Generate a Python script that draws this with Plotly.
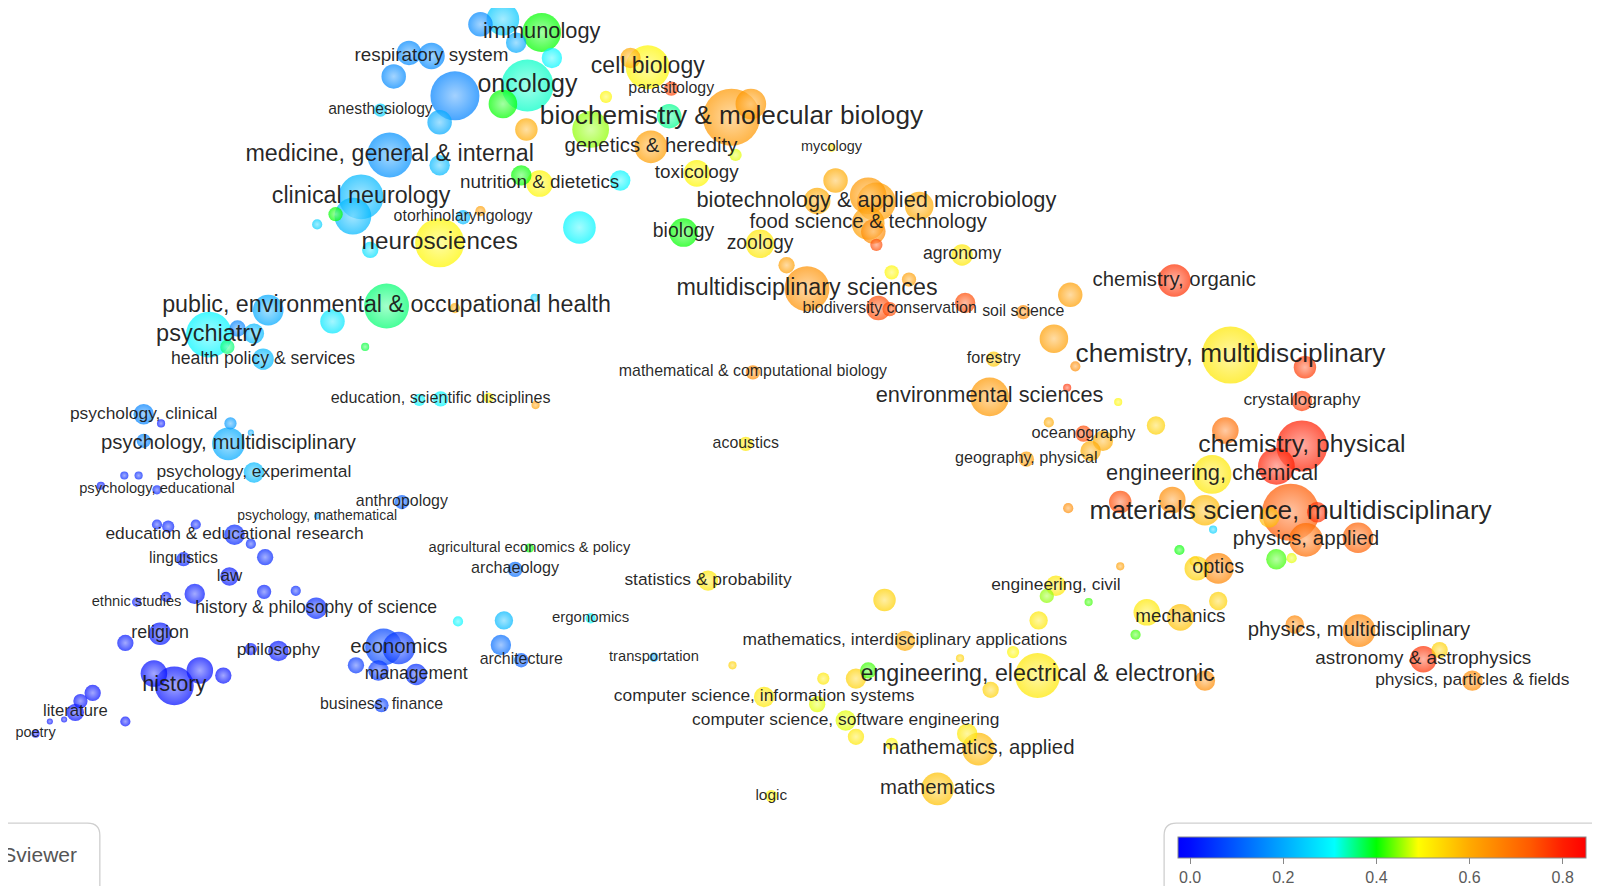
import plotly.graph_objects as go
from plotly.colors import sample_colorscale, unlabel_rgb

# ---------------- data (map coordinates, VOSviewer-style) ----------------
label_text = [
    "immunology", "respiratory system", "oncology", "anesthesiology",
    "medicine, general & internal", "clinical neurology", "otorhinolaryngology",
    "neurosciences", "nutrition & dietetics", "cell biology", "parasitology",
    "biochemistry & molecular biology", "genetics & heredity", "mycology",
    "toxicology", "biology", "biotechnology & applied microbiology",
    "food science & technology", "zoology", "agronomy",
    "multidisciplinary sciences", "biodiversity conservation", "soil science",
    "chemistry, organic", "forestry", "chemistry, multidisciplinary",
    "mathematical & computational biology", "environmental sciences",
    "crystallography", "oceanography", "chemistry, physical",
    "geography, physical", "engineering, chemical",
    "materials science, multidisciplinary", "physics, applied", "optics",
    "engineering, civil", "mechanics", "physics, multidisciplinary",
    "astronomy & astrophysics", "physics, particles & fields",
    "engineering, electrical & electronic",
    "mathematics, interdisciplinary applications", "statistics & probability",
    "computer science, information systems",
    "computer science, software engineering", "mathematics, applied",
    "mathematics", "logic", "acoustics", "transportation", "ergonomics",
    "architecture", "archaeology", "agricultural economics & policy",
    "anthropology", "psychology, mathematical", "economics", "management",
    "business, finance", "philosophy", "history & philosophy of science",
    "history", "religion", "ethnic studies", "law", "linguistics",
    "education & educational research", "psychology, educational",
    "psychology, experimental", "psychology, multidisciplinary",
    "psychology, clinical", "literature", "poetry",
    "public, environmental & occupational health", "psychiatry",
    "health policy & services", "education, scientific disciplines",
]
label_x = [
    530, 422, 516, 372, 381, 353, 453, 430, 528, 634, 657,
    716, 637, 814, 682, 669, 858, 850, 744, 942,
    790, 871, 1002, 1150, 973, 1205, 737, 969,
    1275, 1061, 1275, 1005, 1187, 1264, 1279, 1193,
    1034, 1156, 1331, 1394, 1442, 1016, 886, 693,
    748, 828, 958, 918, 755, 730, 640, 578,
    510, 504, 518, 393, 310, 390, 407, 373, 272, 309,
    170, 156, 133, 224, 179, 229, 153, 248, 223, 140, 73, 34,
    378, 204, 257, 431,
]
label_y = [
    30, 53, 82, 106, 150, 191, 211, 236, 178, 64, 85,
    113, 142, 143, 168, 226, 196, 217, 237, 248,
    281, 301, 304, 273, 350, 346, 363, 387,
    391, 423, 435, 448, 463, 500, 527, 555,
    572, 603, 616, 644, 665, 660, 626, 567,
    681, 704, 732, 771, 778, 433, 642, 604,
    645, 556, 535, 490, 504, 633, 659, 689, 636, 594,
    670, 619, 588, 563, 546, 522, 478, 461, 433, 404, 696, 717,
    298, 326, 350, 389,
]
label_r = [
    19, 13, 25.5, 6.5, 22, 22, 7, 24, 13, 21.5, 7,
    28, 16, 4, 13, 14, 19, 16, 14, 10.5,
    22, 7, 7, 16, 7.5, 28, 7, 19,
    10, 8, 25, 7.5, 19, 28, 16.5, 15,
    10, 13, 16, 13, 10, 22, 10, 10,
    10, 10, 16, 16, 6, 7, 4.5, 5,
    7, 7.5, 4.5, 7, 3, 16, 10.5, 7, 10, 10.5,
    19, 11, 4.5, 9, 7, 10, 4.5, 10, 16, 10, 8.5, 4,
    22, 22.5, 10.5, 7.5,
]
label_score = [
    0.40, 0.16, 0.33, 0.25, 0.17, 0.22, 0.22, 0.50, 0.50, 0.50, 0.76,
    0.63, 0.62, 0.52, 0.50, 0.40, 0.62, 0.62, 0.52, 0.52,
    0.64, 0.75, 0.65, 0.78, 0.56, 0.52, 0.65, 0.63,
    0.77, 0.75, 0.80, 0.62, 0.52, 0.73, 0.70, 0.66,
    0.52, 0.57, 0.66, 0.78, 0.65, 0.52, 0.60, 0.52,
    0.52, 0.48, 0.58, 0.57, 0.50, 0.52, 0.20, 0.30,
    0.10, 0.12, 0.40, 0.10, 0.18, 0.05, 0.04, 0.06, 0.01, 0.03,
    0.00, 0.01, 0.01, 0.01, 0.02, 0.03, 0.02, 0.22, 0.20, 0.15, 0.00, 0.00,
    0.36, 0.30, 0.22, 0.30,
]

# unlabeled nodes
dot_x = [
    492, 470, 400, 385, 445, 492, 540, 505, 430, 515, 430, 345, 328, 310,
    470, 362, 567, 510, 607, 617, 593, 735, 578, 655, 720,
    818, 800, 850, 900, 855, 858, 770, 873, 890, 860, 945,
    1048, 1032, 1053, 1278, 1045, 1095, 1027, 1080, 1132, 1200, 1068, 1250,
    1046, 1097, 1148, 1180, 1243, 1290, 1188, 1330, 1250, 1265, 1155, 1170,
    1172, 1097, 1193, 1025, 1066, 1017, 1123, 1112, 1268, 1410, 1180,
    850, 838, 992, 940, 866, 800, 806, 717, 838, 970, 947, 873,
    490, 493, 448, 375, 348, 370, 245, 195, 150, 218, 122, 190, 162,
    259, 258, 289, 153, 164, 191, 245, 121, 135, 98, 140, 157, 225, 245,
    90, 78, 122, 48, 62,
    262, 325, 445, 523, 232, 222, 248, 357, 410, 478, 524,
]
dot_y = [
    17, 22, 50, 73, 92, 100, 55, 40, 118, 125, 160, 210, 208, 218,
    205, 243, 221, 170, 175, 55, 93, 100, 125, 112, 150,
    175, 195, 190, 200, 225, 238, 258, 265, 272, 300, 295,
    287, 330, 357, 358, 378, 392, 412, 430, 415, 420, 440, 455,
    496, 490, 488, 498, 505, 500, 517, 525, 546, 545, 537, 548,
    555, 553, 587, 582, 588, 606, 598, 620, 610, 635, 665,
    655, 663, 637, 643, 586, 688, 663, 650, 720, 674, 717, 727,
    630, 606, 607, 632, 650, 655, 634, 655, 658, 660, 628, 580, 583,
    544, 578, 577, 512, 514, 512, 531, 464, 464, 474, 430, 413, 413, 422,
    677, 685, 705, 705, 703,
    302, 313, 300, 290, 320, 338, 325, 338, 390, 388, 395,
]
dot_r = [
    16, 12, 12, 12, 24, 14, 10, 10, 12, 11, 10, 18, 7, 5,
    5, 8, 16, 10, 10, 10, 6, 15, 18, 12, 6,
    12, 13, 18, 14, 12, 6, 8, 7, 7, 12, 10,
    12, 14, 5, 11, 4, 4, 5, 10, 9, 13, 10, 18,
    5, 11, 13, 15, 10, 10, 4, 15, 10, 5, 5, 5,
    12, 4, 9, 7, 4, 9, 13, 5, 9, 8, 10,
    8, 10, 6, 4, 11, 8, 6, 4, 8, 8, 10, 6,
    10, 9, 5, 18, 8, 10, 6, 13, 13, 8, 8, 10, 5,
    8, 7, 5, 5, 6, 5, 5, 4, 4, 4, 7, 4, 6, 3,
    8, 7, 5, 3, 3,
    15, 12, 5, 4, 8, 7, 10, 4, 6, 5, 4,
]
dot_score = [
    0.24, 0.16, 0.16, 0.16, 0.15, 0.40, 0.30, 0.20, 0.20, 0.60, 0.22, 0.22, 0.40, 0.25,
    0.62, 0.27, 0.30, 0.40, 0.30, 0.60, 0.50, 0.63, 0.45, 0.35, 0.48,
    0.60, 0.60, 0.63, 0.60, 0.65, 0.75, 0.62, 0.50, 0.62, 0.75, 0.75,
    0.62, 0.62, 0.65, 0.77, 0.78, 0.50, 0.60, 0.60, 0.55, 0.70, 0.60, 0.80,
    0.65, 0.75, 0.65, 0.58, 0.58, 0.78, 0.25, 0.72, 0.42, 0.48, 0.40, 0.55,
    0.55, 0.62, 0.55, 0.45, 0.42, 0.52, 0.52, 0.42, 0.66, 0.55, 0.65,
    0.42, 0.55, 0.50, 0.55, 0.55, 0.48, 0.52, 0.55, 0.52, 0.55, 0.52, 0.50,
    0.12, 0.22, 0.30, 0.07, 0.05, 0.05, 0.01, 0.00, 0.00, 0.00, 0.01, 0.01, 0.01,
    0.03, 0.02, 0.03, 0.02, 0.02, 0.02, 0.03, 0.03, 0.03, 0.01, 0.15, 0.01, 0.18, 0.20,
    0.00, 0.00, 0.00, 0.00, 0.00,
    0.20, 0.28, 0.60, 0.25, 0.15, 0.36, 0.22, 0.38, 0.30, 0.50, 0.62,
]

# colour scale (score -> colour), as on the VOSviewer legend
scale_values = [-0.026, 0.0, 0.31, 0.40, 0.49, 0.60, 0.73, 0.80, 0.85]
scale_colors = ["rgb(0,0,255)", "rgb(0,12,255)", "rgb(0,255,255)", "rgb(0,255,0)",
                "rgb(255,255,0)", "rgb(255,170,0)", "rgb(255,90,0)",
                "rgb(255,30,0)", "rgb(255,0,0)"]
legend_ticks = [0.0, 0.2, 0.4, 0.6, 0.8]

# ---------------- figure ----------------
W, H = 1600, 886
X_RANGE = [7, 1575]
Y_RANGE = [874, 6]
px = W / (X_RANGE[1] - X_RANGE[0])

CMIN, CMAX = scale_values[0], scale_values[-1]
colorscale = [[(v - CMIN) / (CMAX - CMIN), c] for v, c in zip(scale_values, scale_colors)]

all_x = label_x + dot_x
all_y = label_y + dot_y
all_r = label_r + dot_r
all_s = label_score + dot_score
order = sorted(range(len(all_r)), key=lambda i: -all_r[i])
ox = [all_x[i] for i in order]
oy = [all_y[i] for i in order]
orr = [all_r[i] for i in order]
os_ = [all_s[i] for i in order]

norm = [min(max((s - CMIN) / (CMAX - CMIN), 0), 1) for s in os_]
base = sample_colorscale(colorscale, norm)
light = []
for c in base:
    r, g, b = unlabel_rgb(c)
    f = 0.5
    light.append(f"rgb({r + (255 - r) * f:.0f},{g + (255 - g) * f:.0f},{b + (255 - b) * f:.0f})")

fig = go.Figure()
fig.add_trace(go.Scatter(
    x=ox, y=oy, mode="markers", hoverinfo="skip", cliponaxis=False,
    marker=dict(
        size=[2 * r * px for r in orr], sizemode="diameter",
        color=os_, colorscale=colorscale, cmin=CMIN, cmax=CMAX,
        opacity=0.72, line=dict(width=0),
        gradient=dict(type="radial", color=light),
        showscale=True,
        colorbar=dict(
            orientation="h", x=1374 / W, xanchor="center",
            y=1 - 829 / H, yanchor="top", len=408 / W, lenmode="fraction",
            thickness=21, thicknessmode="pixels", xpad=0, ypad=0,
            outlinecolor="#8a8a8a", outlinewidth=1,
            tickvals=legend_ticks, ticktext=[f"{t:.1f}" for t in legend_ticks],
            ticks="outside", ticklen=6, tickcolor="#888", tickwidth=1,
            tickfont=dict(size=16, color="#5a5a5a", family="Liberation Sans, Arial, sans-serif"),
        ),
    ),
    showlegend=False,
))

fig.add_trace(go.Scatter(
    x=label_x, y=label_y, mode="text", text=label_text,
    textposition="middle center", hoverinfo="skip", cliponaxis=False,
    textfont=dict(size=[min(12.5 + 0.49 * r, 26.5) for r in label_r],
                  color="rgba(25,25,25,0.95)",
                  family="Liberation Sans, Arial, sans-serif"),
    showlegend=False,
))


def rounded(x0, y0, x1, y1, rad):
    return (f"M {x0 + rad},{y0} L {x1 - rad},{y0} Q {x1},{y0} {x1},{y0 + rad} "
            f"L {x1},{y1 - rad} Q {x1},{y1} {x1 - rad},{y1} L {x0 + rad},{y1} "
            f"Q {x0},{y1} {x0},{y1 - rad} L {x0},{y0 + rad} Q {x0},{y0} {x0 + rad},{y0} Z")


fig.update_layout(
    width=W, height=H, margin=dict(l=0, r=0, t=0, b=0),
    paper_bgcolor="white", plot_bgcolor="white",
    xaxis=dict(range=X_RANGE, visible=False, fixedrange=True),
    yaxis=dict(range=Y_RANGE, visible=False, fixedrange=True),
    shapes=[
        dict(type="path", xref="x", yref="y", path=rounded(1140, 804.5, 1600, 895, 12),
             line=dict(color="#cfcfcf", width=1.3), fillcolor="white", layer="below"),
        dict(type="path", xref="x", yref="y", path=rounded(-40, 804.5, 97, 895, 12),
             line=dict(color="#cfcfcf", width=1.3), fillcolor="white", layer="below"),
    ],
    annotations=[
        dict(x=77, y=835, xref="x", yref="y", text="VOSviewer", showarrow=False,
             xanchor="right", yanchor="middle",
             font=dict(size=21, color="#555", family="Liberation Sans, Arial, sans-serif")),
    ],
)

fig.write_html("out.html", config={"displayModeBar": False})
